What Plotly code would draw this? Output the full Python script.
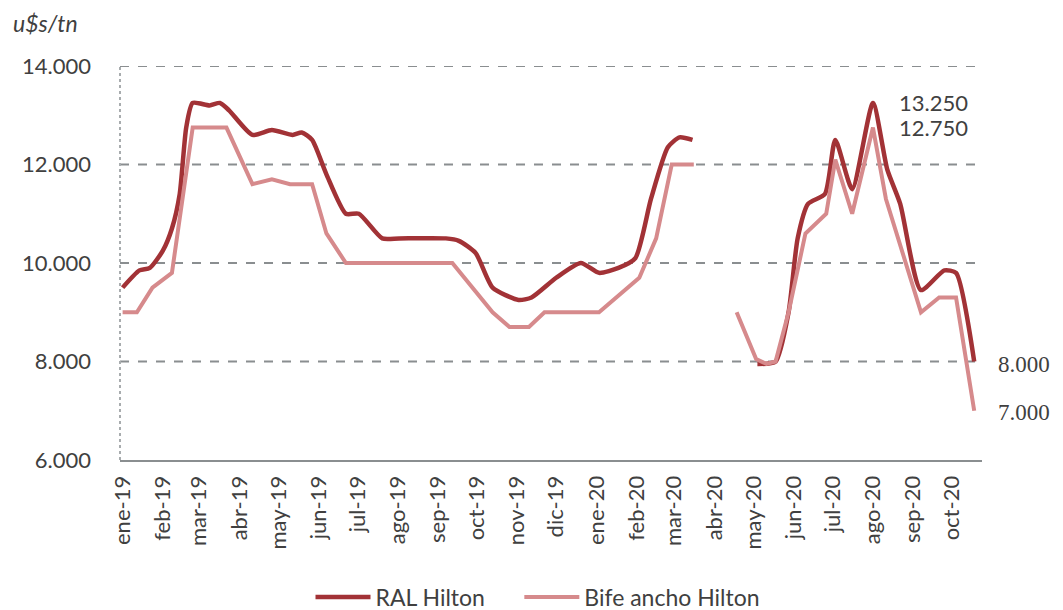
import plotly.graph_objects as go

# RAL Hilton (u$s/tn)
ral_dates = ["2019-01-01", "2019-01-14", "2019-01-22", "2019-02-01", "2019-02-08", "2019-02-14",
             "2019-02-19", "2019-02-24", "2019-03-09", "2019-03-17", "2019-03-24", "2019-04-11",
             "2019-04-26", "2019-05-12", "2019-05-19", "2019-05-27", "2019-06-07", "2019-06-22",
             "2019-07-02", "2019-07-20", "2019-08-02", "2019-09-07", "2019-09-17", "2019-09-30",
             "2019-10-13", "2019-11-02", "2019-11-12", "2019-12-01", "2019-12-20", "2020-01-03",
             "2020-01-18", "2020-01-31", "2020-02-12", "2020-02-25", "2020-03-05", "2020-03-15",
             "2020-04-10",
             "2020-05-04", "2020-05-18", "2020-05-28", "2020-06-04", "2020-06-12", "2020-06-25",
             "2020-07-03", "2020-07-16", "2020-08-01", "2020-08-12", "2020-08-22", "2020-09-07",
             "2020-09-25", "2020-10-04", "2020-10-18"]
ral_values = [9500, 9850, 9900, 10250, 10700, 11400,
              12750, 13250, 13200, 13250, 13100, 12600,
              12700, 12600, 12650, 12500, 11800, 11000,
              11000, 10500, 10500, 10500, 10450, 10200,
              9500, 9250, 9300, 9700, 10000, 9800,
              9900, 10100, 11300, 12350, 12550, 12500,
              None,
              7950, 8000, 9000, 10500, 11200, 11400,
              12500, 11500, 13250, 11900, 11200, 9450,
              9850, 9800, 8000]

# Bife ancho Hilton (u$s/tn)
bife_dates = ["2019-01-01", "2019-01-12", "2019-01-24", "2019-02-08", "2019-02-24", "2019-03-22",
              "2019-04-11", "2019-04-26", "2019-05-10", "2019-05-27", "2019-06-07", "2019-06-22",
              "2019-09-12", "2019-10-13", "2019-10-26", "2019-11-10", "2019-11-22", "2020-01-03",
              "2020-02-03", "2020-02-16", "2020-02-28", "2020-03-16",
              "2020-04-01",
              "2020-04-18", "2020-05-03", "2020-05-11", "2020-05-18", "2020-05-28", "2020-06-10",
              "2020-06-26", "2020-07-03", "2020-07-16", "2020-08-01", "2020-08-11", "2020-09-07",
              "2020-09-21", "2020-10-04", "2020-10-18"]
bife_values = [9000, 9000, 9500, 9800, 12750, 12750,
               11600, 11700, 11600, 11600, 10600, 10000,
               10000, 9000, 8700, 8700, 9000, 9000,
               9700, 10500, 12000, 12000,
               None,
               9000, 8050, 7950, 8000, 9000, 10600,
               11000, 12100, 11000, 12750, 11300, 9000,
               9300, 9300, 7000]

tick_dates = ["2019-01-01", "2019-02-01", "2019-03-01", "2019-04-01", "2019-05-01", "2019-06-01",
              "2019-07-01", "2019-08-01", "2019-09-01", "2019-10-01", "2019-11-01", "2019-12-01",
              "2020-01-01", "2020-02-01", "2020-03-01", "2020-04-01", "2020-05-01", "2020-06-01",
              "2020-07-01", "2020-08-01", "2020-09-01", "2020-10-01"]
tick_labels = ["ene-19", "feb-19", "mar-19", "abr-19", "may-19", "jun-19", "jul-19", "ago-19",
               "sep-19", "oct-19", "nov-19", "dic-19", "ene-20", "feb-20", "mar-20", "abr-20",
               "may-20", "jun-20", "jul-20", "ago-20", "sep-20", "oct-20"]

y_ticks = [6000, 8000, 10000, 12000, 14000]
y_tick_labels = ["6.000", "8.000", "10.000", "12.000", "14.000"]

RAL_COLOR = "#A23236"
BIFE_COLOR = "#D68A8C"
TEXT = "#404040"
FONT = "Lato"
NBSP = "\u00a0"

fig = go.Figure()
fig.add_trace(go.Scatter(x=ral_dates, y=ral_values, mode="lines", name="RAL Hilton" + NBSP * 5,
                         line=dict(color=RAL_COLOR, width=4.5, shape="spline", smoothing=0.6),
                         connectgaps=False))
fig.add_trace(go.Scatter(x=bife_dates, y=bife_values, mode="lines", name="Bife ancho Hilton",
                         line=dict(color=BIFE_COLOR, width=4), connectgaps=False))

# gridlines (dashed) at 8000..14000
for v in [8000, 10000, 12000, 14000]:
    fig.add_shape(type="line", xref="paper", x0=0, x1=1, yref="y", y0=v, y1=v,
                  line=dict(color="#8a8e90", width=2, dash="dash"), layer="below")
# dotted left axis line
fig.add_shape(type="line", xref="paper", x0=0, x1=0, yref="paper", y0=0, y1=1,
              line=dict(color="#a8acae", width=2, dash="dot"), layer="below")

# right-side annotations
fig.add_annotation(x=1.0, xref="paper", y=13250, yref="y", text="13.250", showarrow=False,
                   xanchor="right", yanchor="middle", xshift=-12, yshift=0,
                   font=dict(family=FONT, size=22, color=TEXT))
fig.add_annotation(x=1.0, xref="paper", y=13250, yref="y", text="12.750", showarrow=False,
                   xanchor="right", yanchor="middle", xshift=-12, yshift=-25,
                   font=dict(family=FONT, size=22, color=TEXT))
fig.add_annotation(x=1.0, xref="paper", y=8000, yref="y", text="8.000", showarrow=False,
                   xanchor="left", yanchor="middle", xshift=14, yshift=-3,
                   font=dict(family="Liberation Serif", size=23, color=TEXT))
fig.add_annotation(x=1.0, xref="paper", y=7000, yref="y", text="7.000", showarrow=False,
                   xanchor="left", yanchor="middle", xshift=14, yshift=-2,
                   font=dict(family="Liberation Serif", size=23, color=TEXT))

# unit label
fig.add_annotation(x=-0.126, xref="paper", y=1.108, yref="paper", text="<i>u$s/tn</i>",
                   showarrow=False, xanchor="left", yanchor="middle",
                   font=dict(family=FONT, size=23, color=TEXT))

# page body has an 8px margin: figure is sized/offset to compensate
fig.update_layout(
    width=1055, height=602,
    margin=dict(l=112, r=81, t=58, b=150, autoexpand=False),
    paper_bgcolor="white", plot_bgcolor="white",
    font=dict(family=FONT, color=TEXT, size=19),
    showlegend=True,
    legend=dict(orientation="h", x=0.221, xanchor="left", y=-0.348, yanchor="middle",
                font=dict(family=FONT, size=23, color=TEXT), itemwidth=55,
                tracegroupgap=0),
    xaxis=dict(type="date", range=["2018-12-30", "2020-10-24"],
               tickmode="array", tickvals=tick_dates, ticktext=tick_labels,
               tickangle=-90, showgrid=False, zeroline=False,
               showline=True, linecolor="#8a8e90", linewidth=2,
               ticks="", ticklabelstandoff=5,
               tickfont=dict(family=FONT, size=22, color=TEXT)),
    yaxis=dict(range=[6000, 14000], tickmode="array", tickvals=y_ticks, ticktext=y_tick_labels,
               showgrid=False, zeroline=False, showline=False,
               ticks="", ticklabelstandoff=28,
               tickfont=dict(family=FONT, size=22, color=TEXT)),
)

fig.write_html("out.html")
